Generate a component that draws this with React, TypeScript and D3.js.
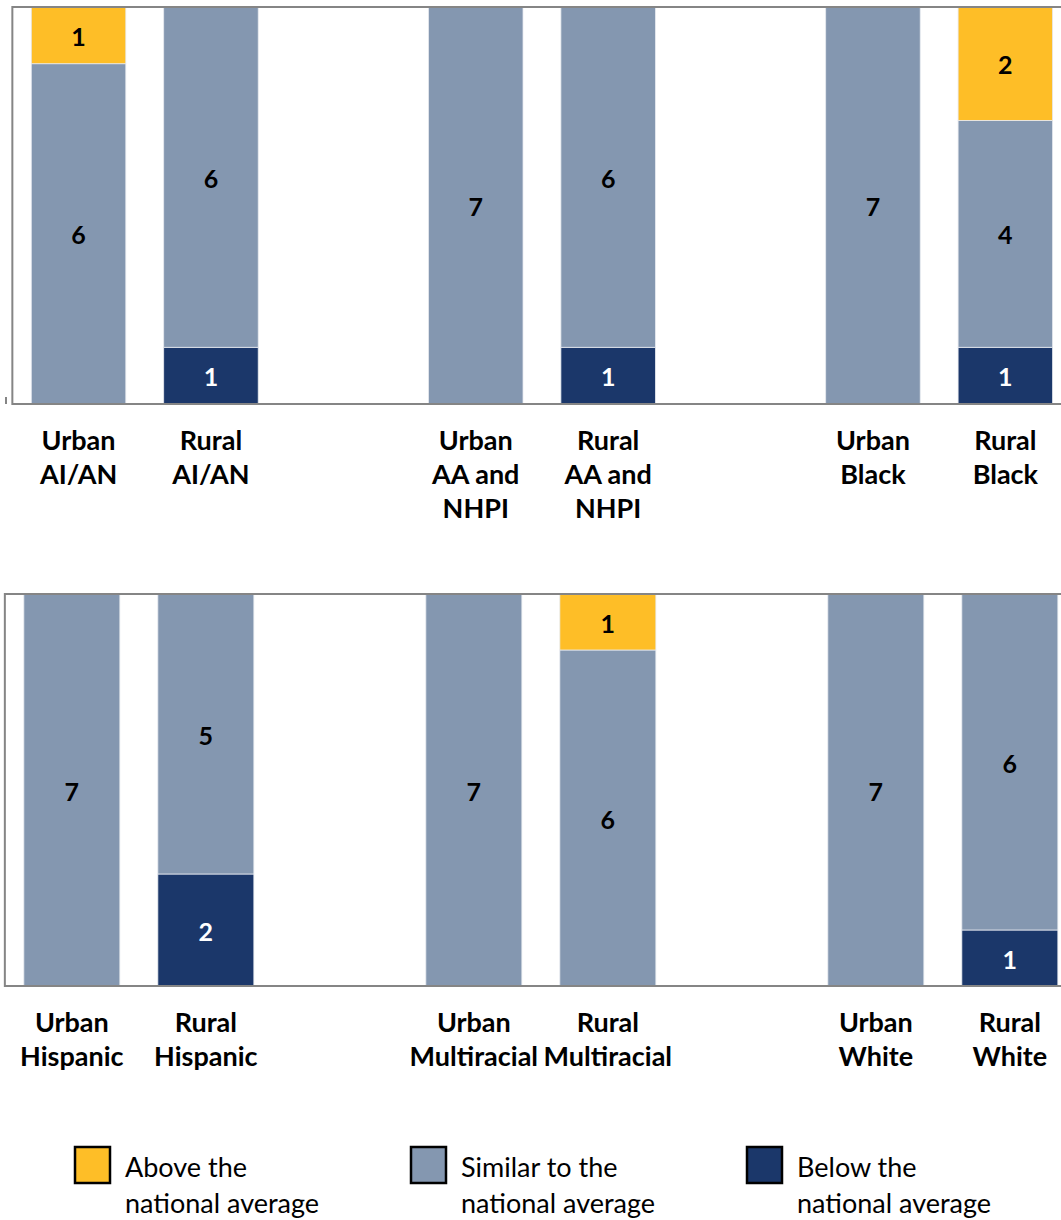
import React from "react";
import * as d3 from "d3";

const topSlots = ["uAIAN", "rAIAN", "gap1", "uAA", "rAA", "gap2", "uBlack", "rBlack"];
const topLabels = [["Urban", "AI/AN"], ["Rural", "AI/AN"], [], ["Urban", "AA and", "NHPI"], ["Rural", "AA and", "NHPI"], [], ["Urban", "Black"], ["Rural", "Black"]];
const topBelow = [0, 1, null, 0, 1, null, 0, 1];
const topSimilar = [6, 6, null, 7, 6, null, 7, 4];
const topAbove = [1, 0, null, 0, 0, null, 0, 2];

const botSlots = ["uHisp", "rHisp", "gap1", "uMulti", "rMulti", "gap2", "uWhite", "rWhite"];
const botLabels = [["Urban", "Hispanic"], ["Rural", "Hispanic"], [], ["Urban", "Multiracial"], ["Rural", "Multiracial"], [], ["Urban", "White"], ["Rural", "White"]];
const botBelow = [0, 2, null, 0, 0, null, 0, 1];
const botSimilar = [7, 5, null, 7, 6, null, 7, 6];
const botAbove = [0, 0, null, 0, 1, null, 0, 0];

const seriesKeys = ["below", "similar", "above"];
const seriesNames = [["Above the", "national average"], ["Similar to the", "national average"], ["Below the", "national average"]];
const legendKeys = ["above", "similar", "below"];
const yTicks = [0, 7];

const COLORS: Record<string, string> = { above: "#FEBE27", similar: "#8497B0", below: "#1B376A" };
const TEXT_COLORS: Record<string, string> = { above: "#000", similar: "#000", below: "#fff" };
const FONT = "Lato, 'Open Sans', sans-serif";

function Panel({ slots, labels, below, similar, above, left, step, barW, top, bottom, labelY }: any) {
  const n = slots.length;
  const p = (step - barW) / step;
  const x = d3.scaleBand<string>().domain(slots).range([left, left + n * step]).paddingInner(p).paddingOuter(p / 2);
  const y = d3.scaleLinear().domain([yTicks[0], yTicks[1]]).range([bottom, top]);
  const rows = slots.map((s: string, i: number) => ({ slot: s, below: below[i], similar: similar[i], above: above[i] }));
  const stack = d3.stack<any>().keys(seriesKeys)(rows.filter((r: any) => r.below !== null));
  return (
    <g>
      {stack.map((layer) => (
        <g key={layer.key}>
          {layer.map((d: any) => {
            const v = d[1] - d[0];
            if (v <= 0) return null;
            const x0 = x(d.data.slot)!;
            const y0 = y(d[1]);
            const y1 = y(d[0]);
            return (
              <g key={d.data.slot}>
                <rect x={x0} y={y0} width={x.bandwidth()} height={y1 - y0} fill={COLORS[layer.key]} stroke="#e6e9ef" strokeWidth={0.8} />
                <text x={x0 + x.bandwidth() / 2} y={(y0 + y1) / 2} dy="0.42em" textAnchor="middle" fontFamily={FONT} fontWeight="bold" fontSize={25} fill={TEXT_COLORS[layer.key]}>{v}</text>
              </g>
            );
          })}
        </g>
      ))}
      <path d={`M${left + 1060},${top} H${left} V${bottom} H${left + 1060}`} fill="none" stroke="#858585" strokeWidth={2} />
      {slots.map((s: string, i: number) => (
        <text key={s} x={x(s)! + x.bandwidth() / 2} textAnchor="middle" fontFamily={FONT} fontWeight="bold" fontSize={27} fill="#000">
          {labels[i].map((l: string, j: number) => (
            <tspan key={j} x={x(s)! + x.bandwidth() / 2} y={labelY + j * 34} dy="0.36em">{l}</tspan>
          ))}
        </text>
      ))}
    </g>
  );
}

export default function App() {
  return (
    <svg width={1061} height={1220} style={{ position: "absolute", left: 0, top: 0, background: "#fff" }}>
      <rect width={1061} height={1220} fill="#fff" />
      <line x1={6} x2={6} y1={397} y2={404} stroke="#858585" strokeWidth={2} />
      <Panel slots={topSlots} labels={topLabels} below={topBelow} similar={topSimilar} above={topAbove}
        left={12.35} step={132.4} barW={94.5} top={7} bottom={404} labelY={440} />
      <Panel slots={botSlots} labels={botLabels} below={botBelow} similar={botSimilar} above={botAbove}
        left={4.85} step={134} barW={96} top={594} bottom={986} labelY={1022} />
      {legendKeys.map((k, i) => (
        <g key={k} transform={`translate(${75 + i * 336},1147)`}>
          <rect x={0} y={0} width={35} height={36} fill={COLORS[k]} stroke="#000" strokeWidth={2.5} />
          <text fontFamily={FONT} fontSize={27} fill="#000">
            <tspan x={50} y={20} dy="0.36em">{seriesNames[i][0]}</tspan>
            <tspan x={50} y={56} dy="0.36em">{seriesNames[i][1]}</tspan>
          </text>
        </g>
      ))}
    </svg>
  );
}
